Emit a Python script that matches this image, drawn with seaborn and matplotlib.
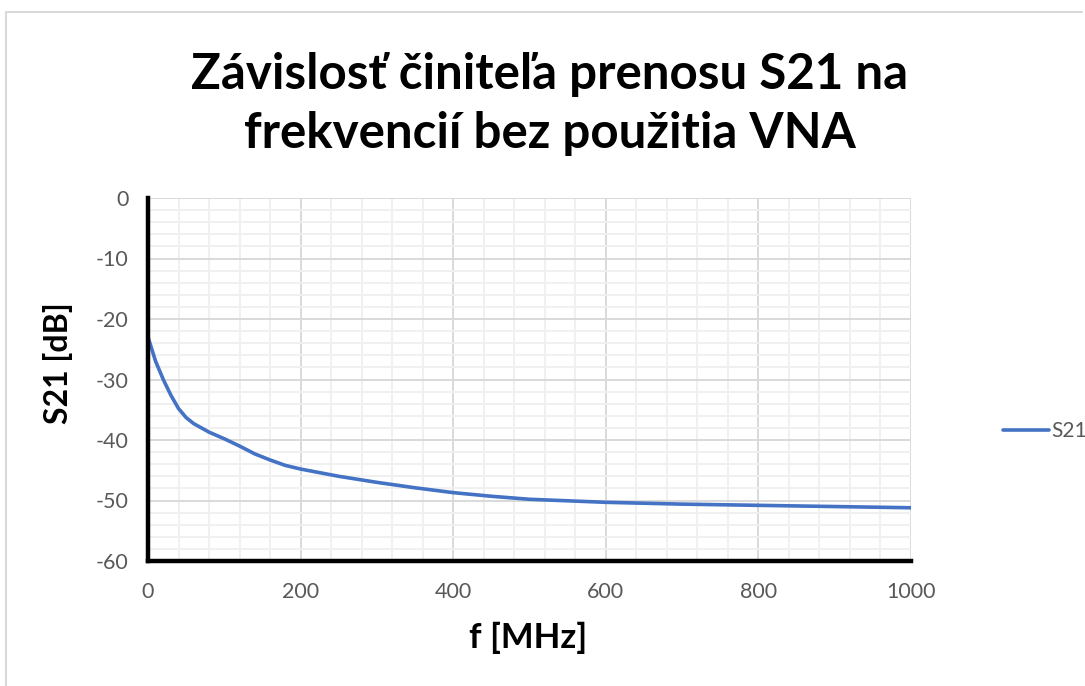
import matplotlib
matplotlib.use("Agg")
import matplotlib.pyplot as plt
from matplotlib.ticker import MultipleLocator
from matplotlib.lines import Line2D
import pandas as pd
import seaborn as sns

# Measured transmission S21 versus frequency
freq_mhz = [0, 5, 10, 20, 30, 40, 50, 60, 80, 100, 120, 140, 160, 180, 200,
            250, 300, 350, 400, 450, 500, 600, 700, 800, 900, 1000]
s21_db = [-23.0, -25.0, -27.0, -30.0, -32.6, -34.8, -36.3, -37.3, -38.7, -39.8,
          -41.0, -42.3, -43.3, -44.2, -44.8, -46.0, -47.0, -47.9, -48.7, -49.3,
          -49.8, -50.3, -50.6, -50.8, -51.0, -51.2]
series_name = "S21"
title_text = "Závislosť činiteľa prenosu S21 na\nfrekvencií bez použitia VNA"
x_label = "f [MHz]"
y_label = "S21 [dB]"
x_ticks = [0, 200, 400, 600, 800, 1000]
y_ticks = [0, -10, -20, -30, -40, -50, -60]

df = pd.DataFrame({"f": freq_mhz, "S21": s21_db, "series": series_name})

sns.set_theme(style="white")
plt.rcParams["font.family"] = ["Lato", "DejaVu Sans"]
plt.rcParams["axes.unicode_minus"] = False

W, H = 1085, 686
fig = plt.figure(figsize=(W / 100, H / 100), dpi=100)
fig.patch.set_facecolor("white")

# plot area in pixel coordinates
left, right, top, bottom = 148, 911, 198, 561
ax = fig.add_axes([left / W, 1 - bottom / H, (right - left) / W, (bottom - top) / H])

sns.lineplot(data=df, x="f", y="S21", ax=ax, color="#4472C4", linewidth=2.6,
             legend=False, sort=True)

ax.set_xlim(0, 1000)
ax.set_ylim(-60, 0)
ax.set_xticks(x_ticks)
ax.set_yticks(y_ticks)
ax.xaxis.set_minor_locator(MultipleLocator(40))
ax.yaxis.set_minor_locator(MultipleLocator(2))

ax.grid(which="minor", color="#f0f0f0", linewidth=1.4, zorder=0)
ax.grid(which="major", color="#d9d9d9", linewidth=1.4, zorder=0)
ax.set_axisbelow(True)

for side in ("top", "right"):
    ax.spines[side].set_visible(False)
for side in ("left", "bottom"):
    ax.spines[side].set_color("black")
    ax.spines[side].set_linewidth(3.2)
    ax.spines[side].set_zorder(5)

ax.tick_params(axis="both", which="both", length=0, labelsize=15.5, labelcolor="#595959")
ax.tick_params(axis="y", pad=14)
ax.tick_params(axis="x", pad=15)

ax.set_xlabel("")
ax.set_ylabel("")
fig.text(528 / W, 1 - 638 / H, x_label, ha="center", va="center",
         fontsize=25, fontweight="bold", color="black")
fig.text(58 / W, 1 - 363 / H, y_label, ha="center", va="center", rotation=90,
         fontsize=23, fontweight="bold", color="black")

fig.text(550 / W, 1 - 104 / H, title_text, ha="center", va="center",
         fontsize=35.5, fontweight="bold", color="black", linespacing=1.38)

handle = Line2D([], [], color="#4472C4", linewidth=2.6)
fig.legend([handle], [series_name], loc="center left",
           bbox_to_anchor=(1003 / W, 1 - 431 / H), frameon=False,
           handlelength=2.2, handletextpad=0.12, borderaxespad=0, borderpad=0,
           prop={"size": 15}, labelcolor="#595959")

# chart-area border along the top and left edges
fig.add_artist(Line2D([6 / W, 1082 / W], [1 - 12 / H, 1 - 12 / H],
                      transform=fig.transFigure, color="#d9d9d9", linewidth=1.5))
fig.add_artist(Line2D([6 / W, 6 / W], [1 - 12 / H, 0],
                      transform=fig.transFigure, color="#d9d9d9", linewidth=1.5))

fig.savefig("out.png", dpi=100, facecolor="white")
